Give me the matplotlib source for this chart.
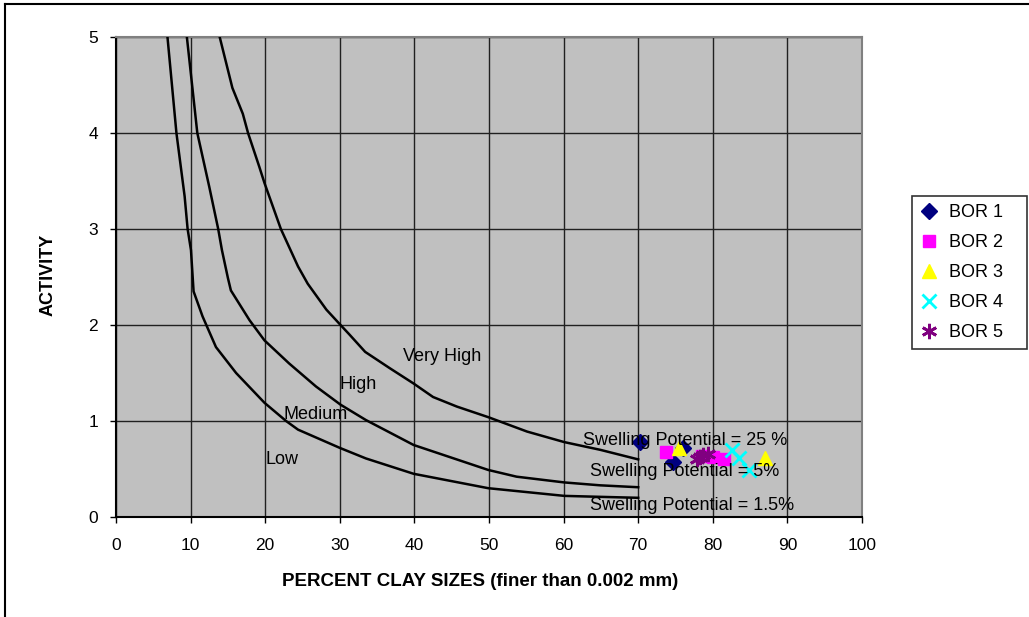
import matplotlib
matplotlib.use("Agg")
import matplotlib.pyplot as plt
from matplotlib.lines import Line2D

plt.rcParams['font.family'] = ['Liberation Sans', 'DejaVu Sans']

# Swelling potential boundary curves (percent clay, activity)
sp15_x = [6.9, 8.1, 9.2, 9.6, 10.05, 10.4, 11.6, 13.4, 16.1, 19.9, 22.8, 24.4, 30.0, 33.5, 39.9, 49.9, 60.1, 64.9, 70.0]
sp15_y = [5.0, 4.0, 3.34, 3.0, 2.78, 2.35, 2.09, 1.77, 1.50, 1.19, 1.0, 0.91, 0.72, 0.61, 0.45, 0.30, 0.22, 0.21, 0.20]

sp5_x = [9.5, 10.9, 12.5, 13.7, 14.2, 15.0, 15.4, 17.9, 19.9, 23.2, 26.8, 30.1, 33.5, 39.9, 49.9, 53.7, 60.1, 64.9, 70.0]
sp5_y = [5.0, 4.0, 3.44, 3.0, 2.78, 2.49, 2.36, 2.05, 1.84, 1.60, 1.36, 1.17, 1.01, 0.75, 0.49, 0.42, 0.36, 0.33, 0.31]

sp25_x = [13.9, 15.6, 17.0, 17.7, 19.2, 19.9, 22.1, 24.4, 25.7, 28.2, 30.1, 31.3, 33.4, 36.7, 39.9, 42.5, 45.7, 49.9, 55.1, 60.1, 64.9, 70.0]
sp25_y = [5.0, 4.47, 4.2, 4.0, 3.65, 3.48, 3.0, 2.61, 2.43, 2.16, 2.0, 1.90, 1.72, 1.55, 1.39, 1.25, 1.15, 1.04, 0.89, 0.78, 0.70, 0.60]

# Borehole samples
bor1_x = [70.3, 74.7, 76.0]
bor1_y = [0.78, 0.57, 0.72]
bor2_x = [73.7, 78.5, 80.0, 81.5]
bor2_y = [0.68, 0.64, 0.62, 0.60]
bor3_x = [75.5, 87.0]
bor3_y = [0.72, 0.61]
bor4_x = [82.6, 83.5, 84.8]
bor4_y = [0.70, 0.61, 0.49]
bor5_x = [77.9, 78.3, 78.7, 79.3]
bor5_y = [0.60, 0.62, 0.65, 0.66]

x_ticks = [0, 10, 20, 30, 40, 50, 60, 70, 80, 90, 100]
y_ticks = [0, 1, 2, 3, 4, 5]

fig = plt.figure(figsize=(10.29, 6.17), dpi=100)
ax = fig.add_axes([116/1029, 1-517/617, (862-116)/1029, (517-37)/617])
ax.set_facecolor('#C0C0C0')

for xs, ys in [(sp15_x, sp15_y), (sp5_x, sp5_y), (sp25_x, sp25_y)]:
    ax.plot(xs, ys, color='black', lw=1.8, zorder=3)

ax.plot(bor1_x, bor1_y, ls='none', marker='D', ms=8, color='#000080', label='BOR 1', zorder=4)
ax.plot(bor2_x, bor2_y, ls='none', marker='s', ms=9, color='#FF00FF', label='BOR 2', zorder=4)
ax.plot(bor3_x, bor3_y, ls='none', marker='^', ms=10, color='#FFFF00', label='BOR 3', zorder=4)
ax.plot(bor4_x, bor4_y, ls='none', marker='x', ms=10, mew=2, color='#00FFFF', label='BOR 4', zorder=4)
ax.plot(bor5_x, bor5_y, ls='none', marker=(6, 2, 0), ms=11, mew=2, color='#800080', label='BOR 5', zorder=4)

ax.set_xlim(0, 100)
ax.set_ylim(0, 5)
ax.set_xticks(x_ticks)
ax.set_yticks(y_ticks)
ax.set_xticklabels([str(v) for v in x_ticks], fontsize=12.5)
ax.set_yticklabels([str(v) for v in y_ticks], fontsize=12.5)
ax.grid(True, color='#202020', lw=1.0, zorder=1)
ax.set_axisbelow(True)
ax.tick_params(direction='out', length=4, width=1, color='black')
ax.tick_params(axis='y', pad=9)
ax.tick_params(axis='x', pad=11)
for s in ['top', 'right']:
    ax.spines[s].set_color('#808080')
    ax.spines[s].set_linewidth(1.5)
for s in ['left', 'bottom']:
    ax.spines[s].set_color('black')
    ax.spines[s].set_linewidth(1.5)

ax.set_xlabel('PERCENT CLAY SIZES (finer than 0.002 mm)', fontsize=13.5, fontweight='bold')
ax.xaxis.set_label_coords(0.488, -0.117)
ax.set_ylabel('ACTIVITY', fontsize=13, fontweight='bold')
ax.yaxis.set_label_coords(-0.08, 0.505)

txt = dict(fontsize=13, color='black', va='center', ha='left', zorder=5)
ax.text(38.5, 1.67, 'Very High', **txt)
ax.text(30.0, 1.38, 'High', **txt)
ax.text(22.4, 1.07, 'Medium', **txt)
ax.text(20.0, 0.60, 'Low', **txt)
ax.text(62.6, 0.80, 'Swelling Potential = 25 %', **txt)
ax.text(63.5, 0.47, 'Swelling Potential = 5%', **txt)
ax.text(63.5, 0.12, 'Swelling Potential = 1.5%', **txt, clip_on=False)

leg = fig.legend(loc='upper left',
                 bbox_to_anchor=(912/1029, 1-358/617, (1027-912)/1029, (358-196)/617),
                 mode='expand', fontsize=13,
                 frameon=True, fancybox=False, shadow=False, edgecolor='black',
                 borderpad=0.45, labelspacing=0.72, handlelength=1.0, handletextpad=0.6,
                 borderaxespad=0.0)
leg.get_frame().set_linewidth(1.2)

# Figure border (top and left)
fig.add_artist(Line2D([5/1029, 1.0], [1-4/617, 1-4/617], transform=fig.transFigure, color='black', lw=1.5))
fig.add_artist(Line2D([5/1029, 5/1029], [1-4/617, 0.0], transform=fig.transFigure, color='black', lw=1.5))

fig.savefig('out.png', dpi=100)
